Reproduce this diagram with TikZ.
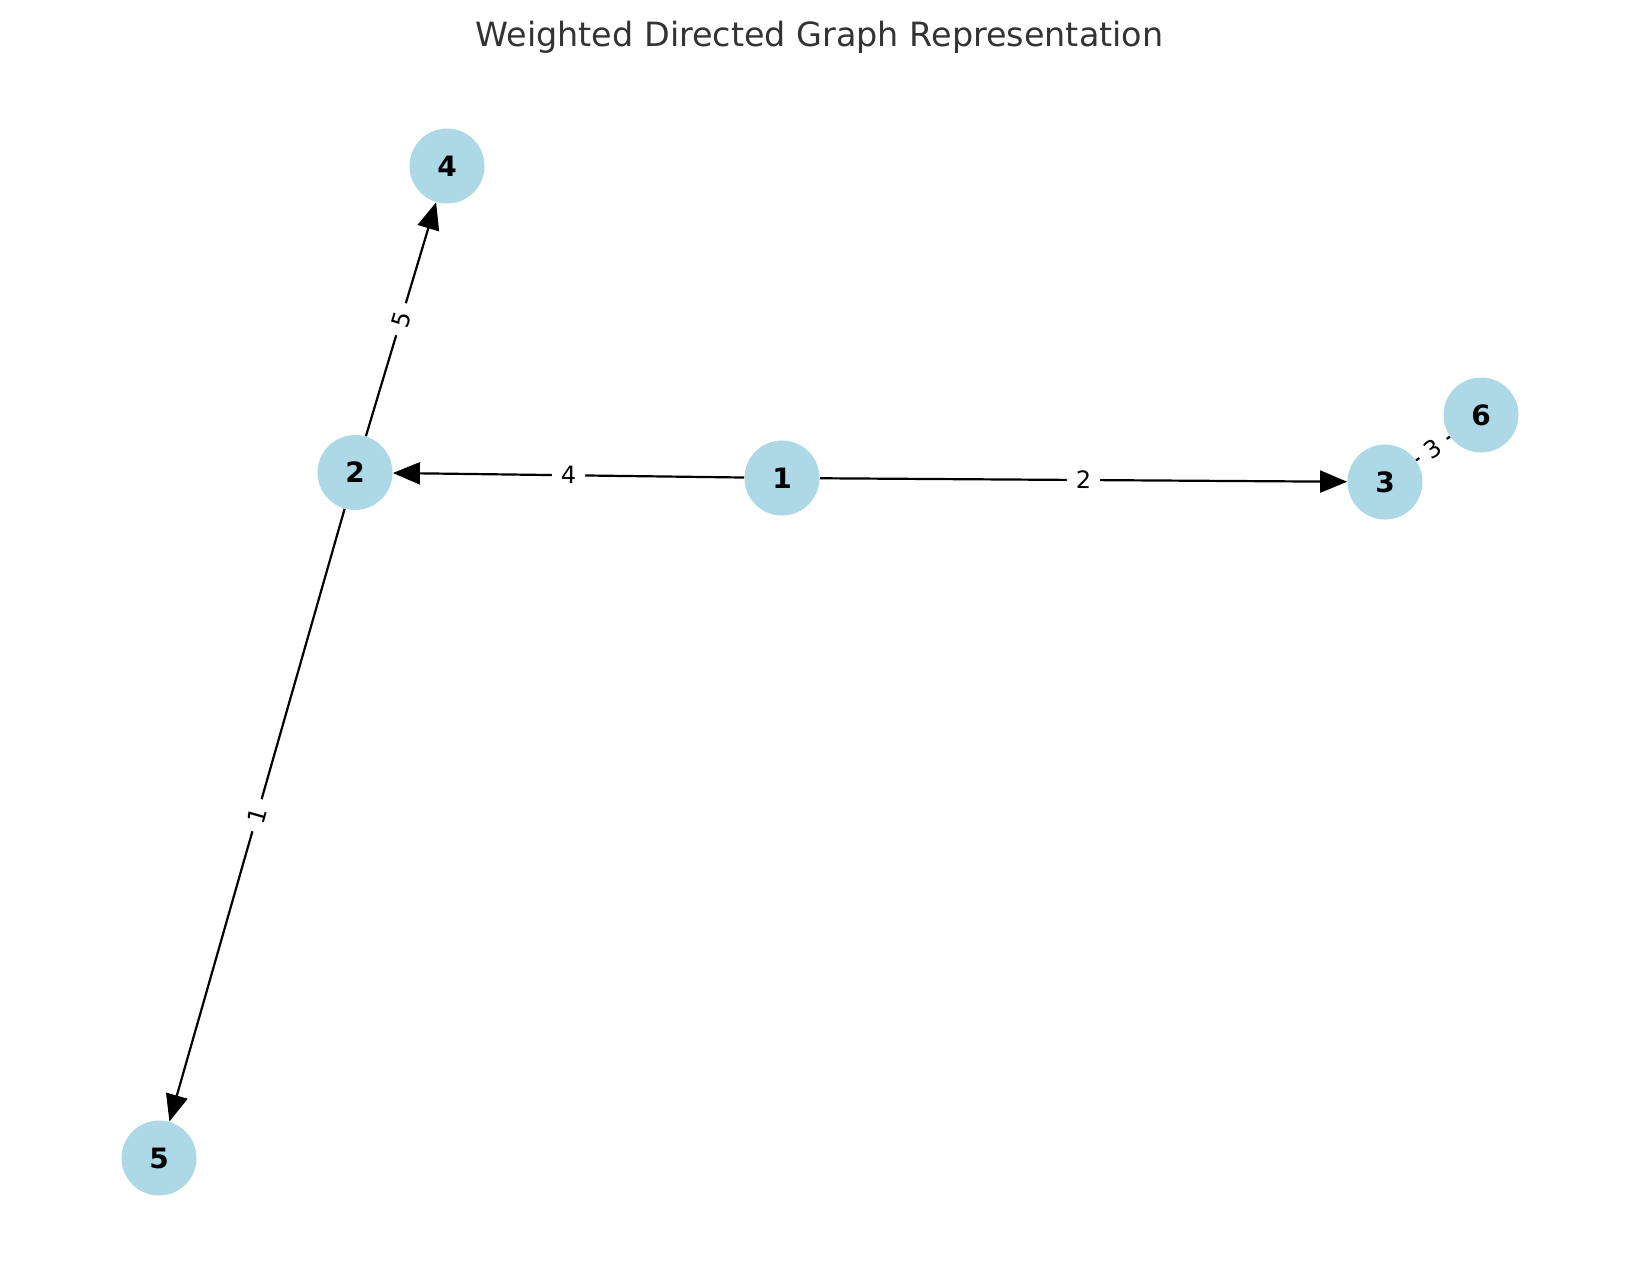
\documentclass[tikz,border=0pt]{standalone}
\usepackage{fontspec}
\setmainfont{DejaVu Sans}
\usetikzlibrary{arrows.meta}
\definecolor{nodeblue}{HTML}{ADD8E6}
\definecolor{titlegray}{HTML}{333333}

\begin{document}
\begin{tikzpicture}[x=0.5pt,y=-0.5pt]
\tikzstyle{vertex}=[circle, fill=nodeblue, minimum size=37.5pt, inner sep=0pt, font=\fontsize{14}{14}\selectfont\bfseries]
\tikzstyle{weight}=[fill=white, inner xsep=4.5pt, inner ysep=2pt, sloped, font=\fontsize{12}{12}\selectfont]
\tikzstyle{arc}=[line width=1.1pt, -{Triangle[length=13.5pt,width=11pt]}]
\useasboundingbox (0,0) rectangle (1639,1282);
\node (title) at (819.5,37) [text=titlegray, font=\fontsize{16.7}{16.7}\selectfont] {Weighted Directed Graph Representation};
\draw (782,478) node (v1) [vertex] {1};
\draw (355,472.5) node (v2) [vertex] {2};
\draw (1385,482) node (v3) [vertex] {3};
\draw (447,166) node (v4) [vertex] {4};
\draw (159,1158) node (v5) [vertex] {5};
\draw (1481,415) node (v6) [vertex] {6};
\draw [arc] (v1) -- node [weight] {4} (v2);
\draw [arc] (v1) -- node [weight] {2} (v3);
\draw [arc] (v2) -- node [weight] {5} (v4);
\draw [arc] (v2) -- node [weight] {1} (v5);
\draw [line width=1.1pt] (v3) -- node [weight] {3} (v6);
\end{tikzpicture}
\end{document}
